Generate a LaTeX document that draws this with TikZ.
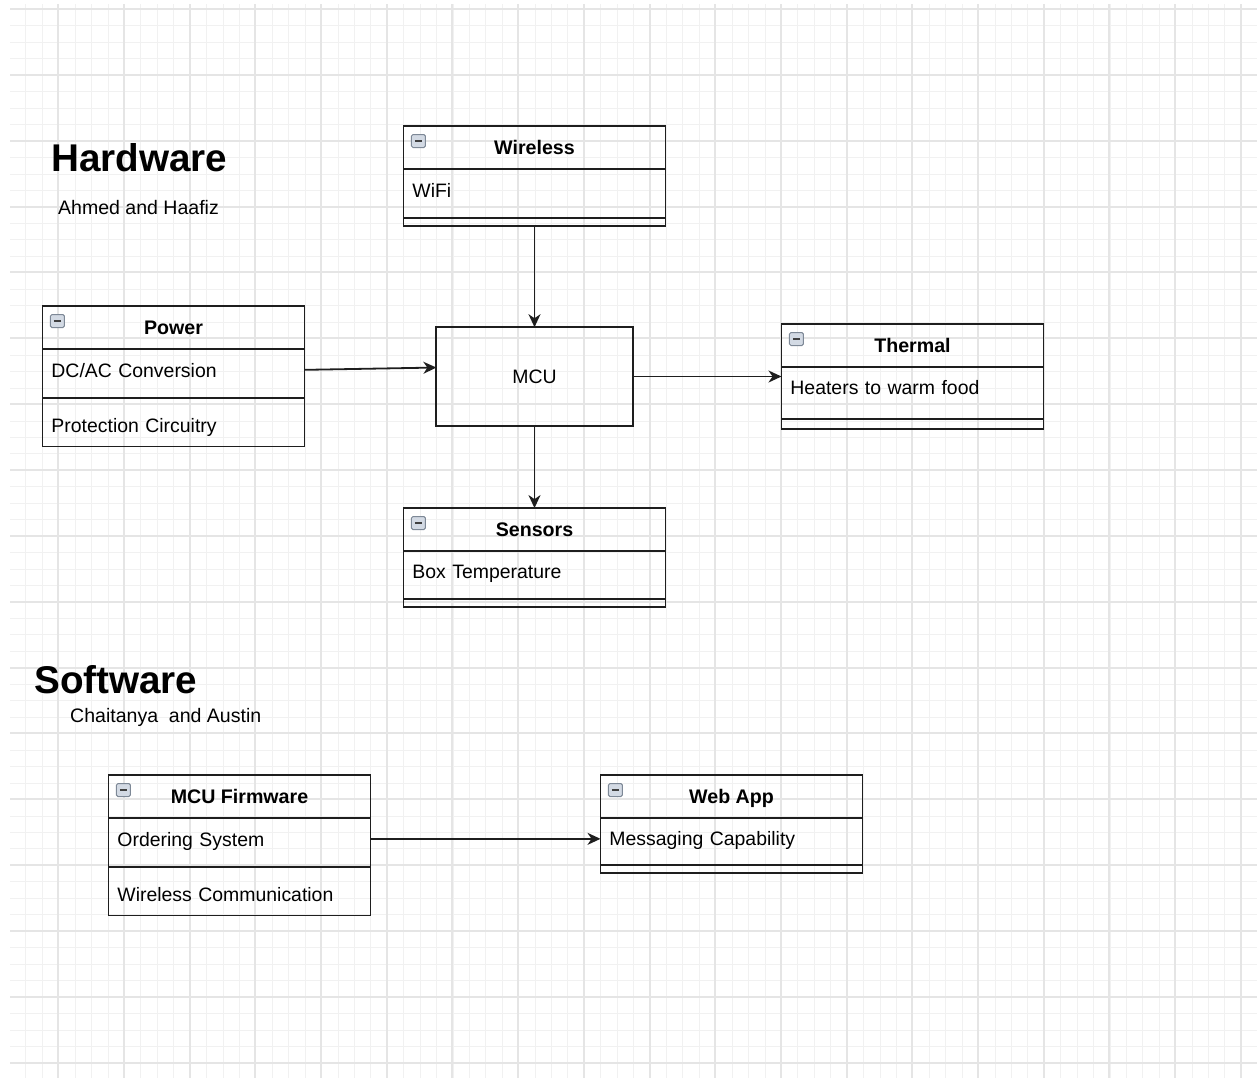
\documentclass[tikz,border=0pt]{standalone}
\usepackage{fontspec}
\setmainfont{Liberation Sans}
\usepackage{tikz}
\usetikzlibrary{positioning}
\usetikzlibrary{shapes,arrows.meta}
\definecolor{gridminor}{HTML}{F1F1F1}
\definecolor{gridmajor}{HTML}{E5E5E5}
\definecolor{foldfill}{HTML}{D3DAE4}
\definecolor{folddraw}{HTML}{7D8896}
\definecolor{ink}{HTML}{1E1E1E}
\newcommand\headfont{\fontsize{19.7}{22}\selectfont\bfseries}
\newcommand\rowfont{\fontsize{19.5}{22}\selectfont}
\tikzset{
head/.style = {draw=ink, rectangle, outer sep=0pt, minimum width=263, minimum height=43, text height=15, text depth=0, font=\headfont},
row/.style  = {draw=ink, rectangle, outer sep=0pt, text width=245, inner xsep=9, minimum height=49, text height=14, text depth=6, align=left, font=\rowfont},
row2/.style = {row, text height=25, text depth=4},
foot/.style = {draw=ink, rectangle, outer sep=0pt, minimum width=263, minimum height=8, inner sep=0pt},
block/.style = {draw=ink, rectangle, outer sep=0pt, minimum width=197, minimum height=99, font=\rowfont},
fold/.style = {draw=folddraw, fill=foldfill, rounded corners=1.5, line width=1, minimum width=14, minimum height=13, inner sep=0pt,
    path picture={\draw[line width=1.4, black!75] ([xshift=3.5]path picture bounding box.west) -- ([xshift=-3.5]path picture bounding box.east);}},
title/.style = {anchor=west, font=\fontsize{38.8}{42}\selectfont\bfseries},
names/.style = {anchor=west, font=\fontsize{19.6}{22}\selectfont}
}

\begin{document}
\begin{tikzpicture}[x=1bp, y=-1bp, line width=1.8bp, >={Stealth[length=13, width=12, inset=4]}]
    \useasboundingbox (0,0) rectangle (1257,1078);
    % background grid
    \foreach \k in {1,...,75}{
        \pgfmathsetmacro\gx{round(9.03+16.425*\k)+0.5}
        \draw[gridminor, line width=1bp] (\gx,4) -- (\gx,1078);}
    \foreach \k in {0,...,64}{
        \pgfmathsetmacro\gy{round(9+16.46*\k)+0.5}
        \draw[gridminor, line width=1bp] (10,\gy) -- (1257,\gy);}
    \foreach \k in {0,...,18}{
        \pgfmathsetmacro\gx{round(58.3+65.7*\k)}
        \draw[gridmajor, line width=2bp] (\gx,4) -- (\gx,1078);}
    \foreach \k in {0,...,16}{
        \pgfmathsetmacro\gy{round(9+65.86*\k)}
        \draw[gridmajor, line width=2bp] (10,\gy) -- (1257,\gy);}

    % headings
    \node [title] (hw) at (47,158) {Hardware};
    \node [names] (hwnames) at (54,208) {Ahmed and Haafiz};
    \node [title] (sw) at (30,680) {Software};
    \node [names] (swnames) at (66,717) {Chaitanya\ \ and Austin};

    % hardware blocks
    \node [head] (wireless) at (534.5,147.5) {Wireless};
    \node [row, below=0pt of wireless] (wifi) {WiFi};
    \node [foot, below=0pt of wifi] (wirelessfoot) {};

    \node [head] (power) at (173.5,327.5) {Power};
    \node [row, below=0pt of power] (dcac) {DC/AC Conversion};
    \node [row2, below=0pt of dcac] (protect) {Protection Circuitry};

    \node [block] (mcu) at (534.5,376.5) {MCU};

    \node [head] (thermal) at (912.5,345.5) {Thermal};
    \node [row, below=0pt of thermal, minimum height=52, text depth=10] (heaters) {Heaters to warm food};
    \node [foot, below=0pt of heaters, minimum height=10] (thermalfoot) {};

    \node [head] (sensors) at (534.5,529.5) {Sensors};
    \node [row, below=0pt of sensors, minimum height=48] (boxtemp) {Box Temperature};
    \node [foot, below=0pt of boxtemp] (sensorsfoot) {};

    % software blocks
    \node [head] (firmware) at (239.5,796.5) {MCU Firmware};
    \node [row, below=0pt of firmware] (ordering) {Ordering System};
    \node [row2, below=0pt of ordering] (wlcomm) {Wireless Communication};

    \node [head] (webapp) at (731.5,796.5) {Web App};
    \node [row, below=0pt of webapp, minimum height=47, text depth=5] (messaging) {Messaging Capability};
    \node [foot, below=0pt of messaging] (webappfoot) {};

    % collapse icons
    \node [fold] (wirelessfold) at ([xshift=15, yshift=-15]wireless.north west) {};
    \node [fold] (powerfold) at ([xshift=15, yshift=-15]power.north west) {};
    \node [fold] (thermalfold) at ([xshift=15, yshift=-15]thermal.north west) {};
    \node [fold] (sensorsfold) at ([xshift=15, yshift=-15]sensors.north west) {};
    \node [fold] (firmwarefold) at ([xshift=15, yshift=-15]firmware.north west) {};
    \node [fold] (webappfold) at ([xshift=15, yshift=-15]webapp.north west) {};

    % connectors
    \draw [->, ink] (wirelessfoot) -- (mcu);
    \draw [->, ink] ([yshift=3.5]dcac.east) -- ([yshift=9]mcu.west);
    \draw [->, ink] (mcu.east) -- (mcu.east -| heaters.west);
    \draw [->, ink] (mcu) -- (sensors);
    \draw [->, ink] ([yshift=3.5]ordering.east) -- ([yshift=3.5]ordering.east -| messaging.west);
\end{tikzpicture}
\end{document}
